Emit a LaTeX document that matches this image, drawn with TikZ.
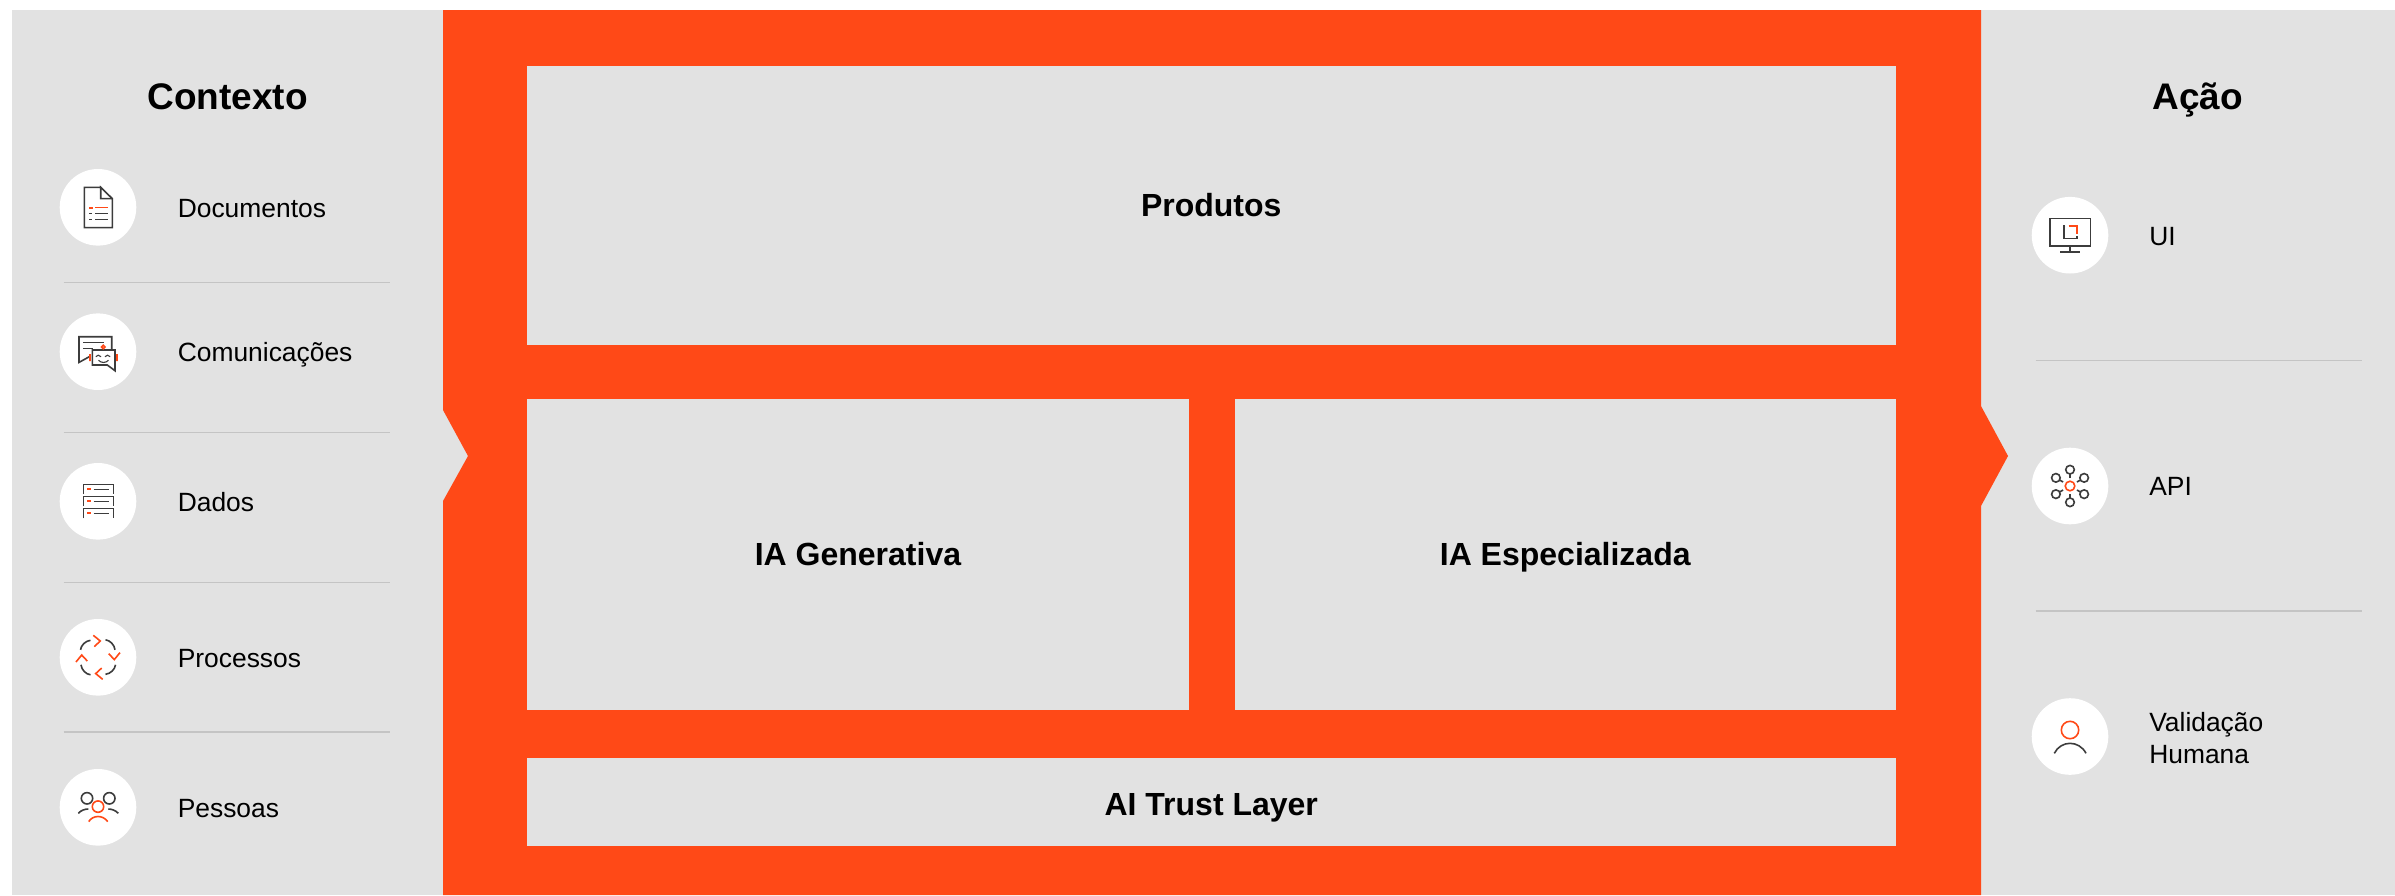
\documentclass[tikz,border=0pt]{standalone}
\usepackage{fontspec}
\setmainfont{Liberation Sans}
\usepackage{xcolor}
\usetikzlibrary{positioning, calc}

\definecolor{panelgrey}{HTML}{E2E2E2}
\definecolor{brandorange}{HTML}{FF4917}
\definecolor{icondark}{HTML}{3C3C3C}
\definecolor{rulegrey}{HTML}{C4C4C4}

\begin{document}
\begin{tikzpicture}[ x = 1pt
                     , y = -1pt
                     , node distance = 41.5pt
                     , every node/.style = { inner sep = 0pt, outer sep = 0pt, align = center }
                     , box/.style = { rectangle
                                    , fill = panelgrey
                                    , text height = 21pt
                                    , text depth = 0pt
                                    , font = \fontsize{32}{38}\selectfont\bfseries }
                     , heading/.style = { anchor = base
                                        , font = \fontsize{37}{44}\selectfont\bfseries }
                     , badge/.style = { circle, fill = white, minimum size = 76.6pt }
                     , itemlabel/.style = { align = left
                                          , text height = 20pt
                                          , text depth = 0pt
                                          , font = \fontsize{26.4}{32}\selectfont }
                     , divider/.style = { draw = rulegrey, line width = 1.3pt }
                     , icondraw/.style = { draw = icondark, line width = 1.6pt }
                     , iconmark/.style = { draw = brandorange, line width = 1.6pt }
                     ]

  \useasboundingbox (0,0) rectangle (2395,895);

  % background bands
  \fill[panelgrey] (12,10) rectangle (2395,895);
  \fill[brandorange] (443,10) -- (1981,10) -- (1981,406) -- (2008,456) -- (1981,506)
    -- (1981,895) -- (443,895) -- (443,501) -- (468,456) -- (443,410) -- cycle;

  % centre blocks
  \node (produtos) [box, minimum width = 1368.5pt, minimum height = 279pt]
    at (1211.25,205.5) {Produtos};
  \node (generativa) [box, minimum width = 662pt, minimum height = 311pt,
    below right = 54pt and 0pt of produtos.south west] {IA Generativa};
  \node (especializada) [box, minimum width = 660.5pt, minimum height = 311pt,
    right = 46pt of generativa] {IA Especializada};
  \node (trust) [box, text height = 27pt, minimum width = 1368.5pt, minimum height = 88pt,
    below right = 47.5pt and 0pt of generativa.south west] {AI Trust Layer};

  % left column
  \node (contexto) [heading] at (227.5,109.3) {Contexto};

  \node (documentos) [badge] at (98,207.3) {};
  \node (comunicacoes) [badge] at (98,351.7) {};
  \node (dados) [badge] at (98,501.3) {};
  \node (processos) [badge] at (98,657.3) {};
  \node (pessoas) [badge] at (98,807.3) {};

  \node (documentostxt) [itemlabel, right = of documentos] {Documentos};
  \node (comunicacoestxt) [itemlabel, right = of comunicacoes] {Comunicações};
  \node (dadostxt) [itemlabel, right = of dados] {Dados};
  \node (processostxt) [itemlabel, right = of processos] {Processos};
  \node (pessoastxt) [itemlabel, right = of pessoas] {Pessoas};

  \foreach \y in {282.3, 432.3, 582.3, 732}
    \draw[divider] (63.7,\y) -- (390.3,\y);

  % right column
  \node (acao) [heading] at (2197.5,109.6) {Ação};

  \node (ui) [badge] at (2070,235.2) {};
  \node (api) [badge] at (2070,486) {};
  \node (validacao) [badge] at (2070,736.5) {};

  \node (uitxt) [itemlabel, right = 41pt of ui] {UI};
  \node (apitxt) [itemlabel, right = 41pt of api, yshift = 1pt] {API};
  \node (validacaotxt) [itemlabel, text height =, text depth =, right = 41pt of validacao,
    yshift = -1.5pt] {Validação\\Humana};

  \foreach \y in {360.7, 611}
    \draw[divider] (2035.7,\y) -- (2362.3,\y);

  % icons
  \begin{scope}[shift = {(documentos.center)}]
    \draw[icondraw] (2.7,-20) -- (-13.7,-20) -- (-13.7,20.3) -- (14.3,20.3) -- (14.3,-8.7)
      -- (2.7,-20) -- (2.7,-8.7) -- (14.3,-8.7);
    \draw[iconmark] (-9,0.7) -- (-5,0.7) (-3,0) -- (9.7,0);
    \draw[icondraw] (-9,6) -- (-5.7,6) (-3,6) -- (9.7,6) (-9,12.3) -- (-5.7,12.3) (-3,12.3) -- (9.7,12.3);
  \end{scope}

  \begin{scope}[shift = {(comunicacoes.center)}]
    \draw[icondraw] (13.7,-2) -- (13.7,-15) -- (-19,-15) -- (-19,10.7) -- (-8.7,5);
    \draw[icondraw] (-14.7,-9.3) -- (6,-9.3) (-14.7,-3.3) -- (-4.7,-3.3);
    \draw[icondraw] (-5.7,-1.7) -- (17,-1.7) -- (17,19) -- (9.3,13.3) -- (-5.7,13.3) -- cycle;
    \draw[icondraw, line width = 1.1pt] (-2.2,5) .. controls (-0.5,3) and (1,3) .. (3,5)
      (7,5) .. controls (8.5,3) and (10.5,3) .. (12.2,5)
      (0.5,8.5) .. controls (3,11.5) and (8,11.5) .. (10.5,8.5);
    \draw[iconmark] (-8,2.3) -- (-8,9.3) (19,2.3) -- (19,9.3) (5.3,-4.7) circle (1.7);
  \end{scope}

  \begin{scope}[shift = {(dados.center)}]
    \foreach \y in {-17, -5, 7} {
      \draw[icondraw] (-14.7,\y+10) -- (-14.7,\y) -- (15.3,\y) -- (15.3,\y+10);
      \draw[icondraw] (-4.3,\y+5) -- (11,\y+5);
      \draw[iconmark, line width = 1.8pt] (-11,\y+5) -- (-7,\y+5);
    }
  \end{scope}

  \begin{scope}[shift = {(processos.center)}]
    \foreach \a in {0,-90,-180,-270} {
      \draw[icondraw, rotate = \a] (-17.5,-7.5) .. controls (-17,-12) and (-12.5,-16.5) .. (-7.5,-17);
      \draw[iconmark, rotate = \a] (-4.7,-22) -- (2.3,-16.3) -- (-3.7,-10.7);
    }
  \end{scope}

  \begin{scope}[shift = {(pessoas.center)}]
    \draw[icondraw] (-11,-9) circle (5.7) (11.3,-9) circle (5.7);
    \draw[icondraw] (-19.7,6) .. controls (-17,3) and (-13,1.7) .. (-9.7,1.7)
      (10.3,1.7) .. controls (13.5,1.7) and (17.5,3) .. (20.3,6);
    \draw[iconmark] (0,-0.7) circle (5.7);
    \draw[iconmark] (-9.3,14.3) .. controls (-5,7.5) and (5,7.5) .. (9.7,14.3);
  \end{scope}

  \begin{scope}[shift = {(ui.center)}]
    \draw[icondraw] (-20,-16.9) rectangle (20.3,10.8);
    \draw[icondraw] (0,10.8) -- (0,17) (-10,17) -- (10,17);
    \draw[icondraw] (-4.7,-9.5) -- (-6.3,-9.5) -- (-6.3,3.2) -- (6.7,3.2) -- (6.7,1);
    \draw[iconmark] (-1.3,-9.5) -- (6.7,-9.5) -- (6.7,-1.5);
  \end{scope}

  \begin{scope}[shift = {(api.center)}]
    \foreach \a in {30,90,...,330} {
      \draw[icondraw] (\a:8) -- (\a:12);
      \draw[icondraw] (\a:16.3) circle (4.3);
    }
    \draw[iconmark] (0,0) circle (4.8);
  \end{scope}

  \begin{scope}[shift = {(validacao.center)}]
    \draw[iconmark] (0,-6.5) circle (8.7);
    \draw[icondraw] (-15.7,16.8) .. controls (-9,3.5) and (9,3.5) .. (16,16.8);
  \end{scope}

\end{tikzpicture}
\end{document}
